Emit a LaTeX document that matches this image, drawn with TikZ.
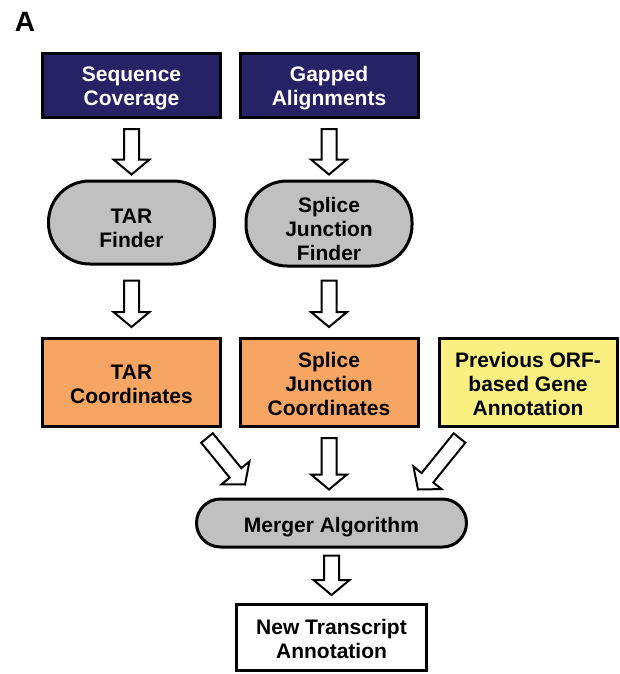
\documentclass[tikz,border=0pt]{standalone}
\usepackage{fontspec}
\setmainfont{Liberation Sans}
\usetikzlibrary{calc}
\definecolor{navy}{RGB}{38,34,102}
\definecolor{orng}{RGB}{246,166,98}
\definecolor{yell}{RGB}{250,240,130}
\definecolor{grayf}{RGB}{192,192,192}
\newcommand\topst[1]{\rule{0pt}{#1pt}}
\newcommand\barrow[2]{%
  \draw[blockarr] let \p1=(#1), \p2=(#2),
     \n1={atan2(\y2-\y1,\x2-\x1)}, \n2={veclen(\x2-\x1,\y2-\y1)-15} in
     ($(\p1)+(\n1+90:7.5)$) -- ($(\p1)+(\n1:\n2)+(\n1+90:7.5)$) --
     ($(\p1)+(\n1:\n2)+(\n1+90:18)$) -- (\p2) --
     ($(\p1)+(\n1:\n2)+(\n1-90:18)$) -- ($(\p1)+(\n1:\n2)+(\n1-90:7.5)$) --
     ($(\p1)+(\n1-90:7.5)$) -- cycle;}
\begin{document}
\begin{tikzpicture}[x=1pt,y=1pt,
  txt/.style={font=\bfseries\fontsize{21}{24}\selectfont, align=center, inner sep=0pt,
    execute at end node={\rule[-5pt]{0pt}{5pt}}},
  box/.style={txt, draw=black, line width=3pt, minimum width=178, minimum height=64},
  inbox/.style={box, fill=navy, text=white},
  stad/.style={txt, draw=black, line width=3pt, fill=grayf, minimum width=166, minimum height=83, rounded corners=41},
  coord/.style={box, fill=orng, minimum height=88},
  blockarr/.style={draw=black, fill=white, line width=2pt, line join=miter}]
\useasboundingbox (0,0) rectangle (619,-674);
\node[font=\bfseries\fontsize{28}{30}\selectfont, inner sep=0pt] (lbl) at (25,-22) {A};
\node[inbox] (sc) at (131.5,-85.5) {\topst{22}Sequence\\Coverage};
\node[inbox] (ga) at (329,-85.5) {\topst{22}Gapped\\Alignments};
\node[stad] (tf) at (131.5,-222.5) {\topst{30}TAR\\Finder};
\node[stad, minimum height=85] (sjf) at (329,-223.5) {\topst{30}Splice\\Junction\\Finder};
\node[coord] (tc) at (131.5,-382.5) {\topst{22}TAR\\Coordinates};
\node[coord] (sjc) at (329,-382.5) {\topst{22}Splice\\Junction\\Coordinates};
\node[coord, fill=yell] (prev) at (528,-382.5) {\topst{22}Previous ORF-\\based Gene\\Annotation};
\node[stad, minimum width=270, minimum height=48, rounded corners=24] (merger) at (331.5,-523) {\topst{23}Merger Algorithm};
\node[box, fill=white, minimum width=190, minimum height=66] (nta) at (331.5,-637.5) {\topst{22}New Transcript\\Annotation};
\barrow{$(sc.south)+(0,-10)$}{$(tf.north)+(0,5)$}
\barrow{$(ga.south)+(0,-10)$}{$(sjf.north)+(0,5)$}
\barrow{$(tf.south)+(0,-15)$}{$(tc.north)+(0,10)$}
\barrow{$(sjf.south)+(0,-13)$}{$(sjc.north)+(0,10)$}
\barrow{$(sjc.south)+(0,-10)$}{$(sjc.south |- merger.north)+(0,8)$}
\barrow{$(merger.south)+(0,-7)$}{$(nta.north)+(0,8)$}
\barrow{$(tc.south east)+(-15,-10)$}{$(merger.north west)+(50,13)$}
\barrow{$(prev.south west)+(22,-10)$}{$(merger.north east)+(-50,8)$}
\end{tikzpicture}
\end{document}
